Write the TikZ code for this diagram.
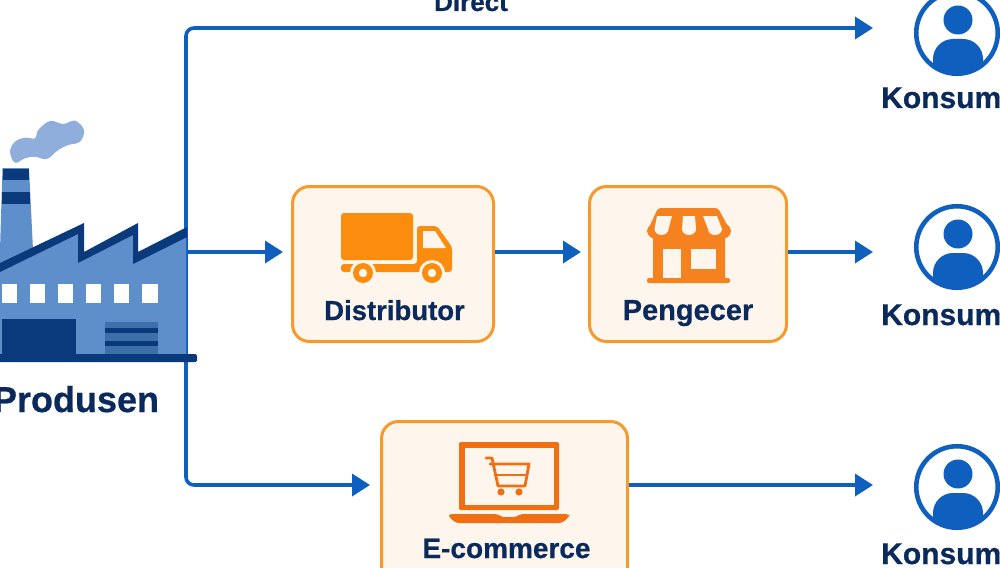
\documentclass[tikz,border=0pt]{standalone}
\usepackage{fontspec}
\setmainfont{Liberation Sans}[BoldFeatures={FakeBold=0.6}]
\usetikzlibrary{arrows.meta}
\definecolor{flowblue}{HTML}{0F5FBF}
\definecolor{navy}{HTML}{0B2A5C}
\definecolor{boxline}{HTML}{F79A2B}
\definecolor{boxfill}{HTML}{FEF6EC}
\definecolor{truckor}{HTML}{FB8C0E}
\definecolor{shopor}{HTML}{F5821F}
\definecolor{laptopor}{HTML}{EF6F12}
\definecolor{factmid}{HTML}{5F8FCB}
\definecolor{factdark}{HTML}{0A3A7C}
\definecolor{shutter}{HTML}{3D6FAB}
\definecolor{smoke}{HTML}{8FAEDB}
\tikzset{
  x=1pt,y=-1pt,
  flow/.style={draw=flowblue,line width=3.6pt,-{Triangle[length=18pt,width=22pt]}},
  trunkline/.style={flow,rounded corners=8pt},
  stagebox/.style={draw=boxline,fill=boxfill,line width=3pt,rounded corners=17pt,inner sep=0pt,outer sep=0pt,anchor=north west},
  lbl/.style={text=navy,font=\bfseries,inner sep=0pt,anchor=base},
  ring/.style={draw=flowblue,line width=4.6pt,circle,fill=white,minimum size=81.5pt,inner sep=0pt},
  person/.pic={
    \begin{scope}
      \clip (0,0) circle[radius=41];
      \fill[flowblue] (1,-13) circle[radius=14.5];
      \fill[flowblue,rounded corners=20pt] (-24,60) -- (-24,6) -- (26,6) -- (26,60) -- cycle;
    \end{scope}
  }
}
\begin{document}
\begin{tikzpicture}
\useasboundingbox (0,0) rectangle (1000,567);
\clip (0,0) rectangle (1000,567);
\fill[white] (0,0) rectangle (1000,567);

% stage boxes
\node[stagebox,minimum width=201pt,minimum height=155pt] (distributor) at (292.5,186.5) {};
\node[stagebox,minimum width=197pt,minimum height=155pt] (pengecer) at (589.5,186.5) {};
\node[stagebox,minimum width=246pt,minimum height=190pt] (ecommerce) at (381.5,421.5) {};

% consumers
\node[ring] (k1) at (957,33) {};
\node[ring] (k2) at (957,247) {};
\node[ring] (k3) at (957,487) {};
\pic at (k1.center) {person};
\pic at (k2.center) {person};
\pic at (k3.center) {person};

% routing coordinates
\coordinate (trunk) at (186,252);
\coordinate (row1) at (873,28);
\coordinate (row2) at (873,252);
\coordinate (row3) at (873,485);

% connectors
\draw[trunkline] (trunk) -- (trunk |- row1) -- (row1);
\draw[flow,shorten >=9.5pt] (trunk) -- (distributor.west |- row2);
\draw[trunkline,shorten >=11.5pt] (trunk) -- (trunk |- row3) -- (ecommerce.west |- row3);
\draw[flow,shorten <=1.5pt,shorten >=8.5pt] (distributor.east |- row2) -- (pengecer.west |- row2);
\draw[flow,shorten <=1.5pt] (pengecer.east |- row2) -- (row2);
\draw[flow,shorten <=1.5pt] (ecommerce.east |- row3) -- (row3);

% factory
\fill[smoke] plot[smooth cycle,tension=0.6] coordinates {(15,162.7) (10,151.7) (15,141.7) (25,137.7) (35,138.3) (38.3,130) (50,121) (63.3,124) (75,120.7) (84,130) (80,141.7) (68.3,145) (58.3,150) (46.7,159) (35,156.7) (25,158.3)};
\fill[factmid] (2.5,168) -- (29,168) -- (33,250) -- (0,266) -- (0,250) -- cycle;
\fill[factdark] (2.5,168.5) rectangle (29,179.5);
\fill[factdark] (2,192) rectangle (30,204);
\fill[factmid] (0,268) -- (78,230) -- (78,260) -- (133,230) -- (133,260) -- (186,232) -- (186,356) -- (0,356) -- cycle;
\fill[factdark] (0,263) -- (84,223) -- (84,252) -- (138,223) -- (138,252) -- (187,227) -- (187,237) -- (133,264) -- (133,235) -- (78,263) -- (78,234) -- (0,272) -- cycle;
\foreach \wx/\wy in {2/17,30/45,58/73,86/101,114/129,142/158}
  \fill[white] (\wx,284) rectangle (\wy,303);
\fill[factdark] (2,318.5) rectangle (76,356);
\fill[shutter] (105,322) rectangle (158,356);
\fill[factdark] (105,328) rectangle (158,333);
\fill[factdark] (105,341) rectangle (158,346);
\fill[factdark,rounded corners=1.5pt] (-5,354) rectangle (197,362);

% truck
\fill[truckor,rounded corners=3pt] (341,213) rectangle (413,260);
\fill[truckor,rounded corners=3pt] (417,226) -- (437,226) -- (452,247) -- (452,272) -- (341,272) -- (341,264) -- (417,264) -- cycle;
\fill[boxfill] (423,231) -- (435,231) -- (446,248) -- (423,248) -- cycle;
\foreach \cx in {363,432}{
  \fill[boxfill] (\cx,273) circle[radius=13];
  \fill[truckor] (\cx,273) circle[radius=10];
  \fill[boxfill] (\cx,273) circle[radius=4.2];
}

% shop
\fill[shopor,rounded corners=2pt] (653,232) rectangle (725,281);
\fill[shopor,rounded corners=2pt] (647,278) rectangle (730,283);
\fill[shopor,rounded corners=3pt] (658,208) -- (718,208) -- (731,232) -- (647,232) -- cycle;
\fill[shopor] (660,231) ellipse[x radius=13,y radius=9];
\fill[shopor] (689,231) ellipse[x radius=15,y radius=9];
\fill[shopor] (718,231) ellipse[x radius=13,y radius=9];
\fill[boxfill] (663,249) rectangle (681,278);
\fill[boxfill] (691,249) rectangle (716,269);
\fill[boxfill] (657,216) -- (672,216) -- (668.5,229) arc[start angle=0,end angle=180,x radius=7,y radius=6] -- cycle;
\fill[boxfill] (683,216) -- (695,216) -- (696,229) arc[start angle=0,end angle=180,x radius=7,y radius=6] -- cycle;
\fill[boxfill] (703,216) -- (717,216) -- (722,229) arc[start angle=0,end angle=180,x radius=7,y radius=6] -- cycle;

% laptop
\fill[laptopor,rounded corners=2pt] (459,442) rectangle (559,510);
\fill[boxfill] (465,448) rectangle (554,505);
\fill[laptopor,rounded corners=3pt] (449,514) -- (498,514) -- (501,517) -- (517,517) -- (520,514) -- (569,514) -- (569,517) -- (562,523) -- (456,523) -- (449,517) -- cycle;
\draw[laptopor,line width=2.8pt,line cap=round,line join=round] (486,458) -- (492,458) -- (498,486) -- (525,486) -- (529,464) -- (490,464);
\draw[laptopor,line width=2.8pt] (494,475) -- (527,475);
\fill[laptopor] (501,492) circle[radius=3.6];
\fill[laptopor] (519,492) circle[radius=3.6];

% labels
\node[lbl,font=\fontsize{36}{40}\bfseries\selectfont] (produsen) at (76,412) {Produsen};
\node[lbl,font=\fontsize{27.5}{30}\bfseries\selectfont] (ldist) at (394.5,320) {Distributor};
\node[lbl,font=\fontsize{29}{32}\bfseries\selectfont] (lpeng) at (688,320) {Pengecer};
\node[lbl,font=\fontsize{28}{30}\bfseries\selectfont] (lecom) at (506.5,558) {E-commerce};
\node[lbl,font=\fontsize{26}{28}\bfseries\selectfont] (ldirect) at (471,11) {Direct};
\node[lbl,anchor=base west,font=\fontsize{30}{33}\bfseries\selectfont] (lk1) at (881,108) {Konsumen};
\node[lbl,anchor=base west,font=\fontsize{30}{33}\bfseries\selectfont] (lk2) at (881,325) {Konsumen};
\node[lbl,anchor=base west,font=\fontsize{30}{33}\bfseries\selectfont] (lk3) at (881,564) {Konsumen};
\end{tikzpicture}
\end{document}
